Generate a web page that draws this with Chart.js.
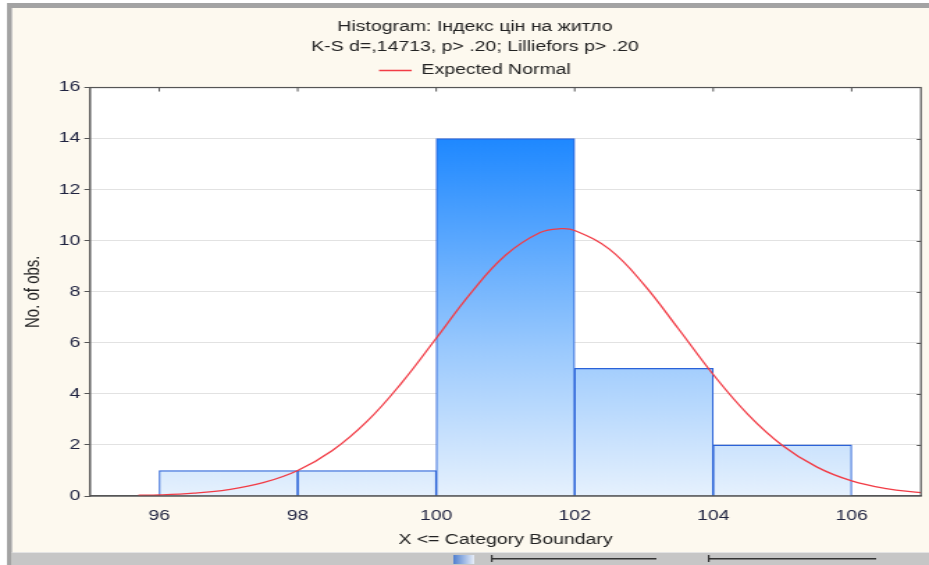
<!DOCTYPE html>
<html>
<head>
<meta charset="utf-8">
<script src="https://cdn.jsdelivr.net/npm/chart.js@4/dist/chart.umd.min.js"></script>
<style>
  html, body { margin: 0; padding: 0; background: #fff; overflow: hidden; }
  /* the source screenshot is stretched sideways, so the chart is drawn narrow and widened */
  #wrap { width: 668px; height: 565px; transform: scaleX(1.3907); transform-origin: 0 0; }
</style>
</head>
<body>
<div id="wrap"><canvas id="histCanvas" width="668" height="565"></canvas></div>
<script>
// histogram bins (centres), counts per bin, x tick labels
const binCenters = [97, 99, 101, 103, 105];
const binCounts = [1, 1, 14, 5, 2];
const xTicks = [96, 98, 100, 102, 104, 106];
// expected normal curve
const curveX = [95.7, 96, 96.5, 97, 97.5, 98, 98.5, 99, 99.5, 100, 100.5, 101, 101.5, 101.8, 102, 102.5, 103, 103.5, 104, 104.5, 105, 105.5, 106, 106.5, 107];
const curveY = [0.03, 0.04, 0.11, 0.25, 0.52, 1.0, 1.78, 2.92, 4.43, 6.18, 7.95, 9.43, 10.32, 10.47, 10.4, 9.67, 8.28, 6.54, 4.76, 3.2, 1.98, 1.13, 0.59, 0.29, 0.13];

const FONT = "'Liberation Sans', Arial, sans-serif";
const CREAM = '#fdf9ef';

const backdrop = {
    id: 'backdrop',
    beforeDraw(chart) {
        const c = chart.ctx, w = chart.width, h = chart.height, a = chart.chartArea;
        c.save();
        c.fillStyle = '#ffffff';
        c.fillRect(0, 0, w, h);
        c.fillStyle = CREAM;
        c.fillRect(8.6, 8, w - 8.6, h - 8);
        c.fillStyle = '#a3a3a3';
        c.fillRect(5, 3, 3.6, h - 3);
        c.fillRect(5, 3, w - 5, 5);
        // bottom toolbar
        c.fillStyle = '#c6c6c6';
        c.fillRect(8.6, 553, w - 8.6, 12);
        c.fillStyle = '#e4e4e4';
        c.fillRect(8.6, 552, w - 8.6, 1);
        c.fillStyle = '#333';
        c.fillRect(353, 558, 119, 1.5);
        c.fillRect(509, 558, 121, 1.5);
        c.fillRect(353, 555, 1.2, 7);
        c.fillRect(509, 555, 1.2, 7);
        const g = c.createLinearGradient(326, 0, 341, 0);
        g.addColorStop(0, '#4f7fd0');
        g.addColorStop(1, '#e8eef8');
        c.fillStyle = g;
        c.fillRect(326, 555, 15, 9);
        // plot background
        c.fillStyle = '#ffffff';
        c.fillRect(a.left, a.top, a.right - a.left, a.bottom - a.top);
        c.restore();
    }
};

const frame = {
    id: 'frame',
    afterDraw(chart) {
        const c = chart.ctx, a = chart.chartArea;
        const y = chart.scales.y, x = chart.scales.x;
        c.save();
        c.strokeStyle = '#555';
        c.lineWidth = 1.2;
        c.strokeRect(a.left, a.top, a.right - a.left, a.bottom - a.top);
        c.lineWidth = 1;
        c.beginPath();
        for (let v = 2; v < 16; v += 2) {
            const py = Math.round(y.getPixelForValue(v)) + 0.5;
            c.moveTo(a.right - 3, py);
            c.lineTo(a.right, py);
        }
        xTicks.forEach(v => {
            const px = x.getPixelForValue(v);
            c.moveTo(px, a.top);
            c.lineTo(px, a.top + 4);
        });
        c.stroke();
        c.restore();
    }
};

function barFill(ctx) {
    const chart = ctx.chart;
    const a = chart.chartArea;
    if (!a) return '#9fcbfe';
    const y = chart.scales.y;
    const g = chart.ctx.createLinearGradient(0, a.bottom, 0, y.getPixelForValue(14));
    g.addColorStop(0, '#e6f1fd');
    g.addColorStop(0.4, '#9ccafd');
    g.addColorStop(1, '#1e88ff');
    return g;
}

const chart = new Chart(document.getElementById('histCanvas'), {
    type: 'bar',
    data: {
        datasets: [{
            type: 'bar',
            label: 'Histogram',
            data: binCenters.map((v, i) => ({x: v, y: binCounts[i]})),
            backgroundColor: barFill,
            borderColor: '#2a62d8',
            borderWidth: {top: 1.3, left: 1.1, right: 1.1, bottom: 0},
            borderSkipped: false,
            barPercentage: 1,
            categoryPercentage: 1,
            grouped: false,
            order: 1
        }, {
            type: 'line',
            label: 'Expected Normal',
            data: curveX.map((v, i) => ({x: v, y: curveY[i]})),
            borderColor: '#f23c46',
            backgroundColor: '#f23c46',
            borderWidth: 1.3,
            pointRadius: 0,
            tension: 0.4,
            fill: false,
            order: 0
        }]
    },
    options: {
        responsive: false,
        animation: false,
        layout: {padding: {left: 15, right: 0, top: 0, bottom: 12}},
        plugins: {
            title: {
                display: true,
                text: ['Histogram: Індекс цін на житло', 'K-S d=,14713, p> .20; Lilliefors p> .20'],
                color: '#222',
                font: {family: FONT, size: 14, weight: 'normal', lineHeight: 1.43},
                padding: {top: 17, bottom: 0}
            },
            legend: {
                display: true,
                labels: {
                    color: '#222',
                    font: {family: FONT, size: 14},
                    boxWidth: 23.5,
                    boxHeight: 1.5,
                    padding: 6.5,
                    filter: item => item.datasetIndex === 1,
                    generateLabels: c => Chart.defaults.plugins.legend.labels.generateLabels(c).map(l => Object.assign(l, {lineWidth: 0}))
                }
            },
            tooltip: {enabled: false}
        },
        scales: {
            x: {
                type: 'linear',
                offset: false,
                min: 95,
                max: 107,
                afterBuildTicks: s => { s.ticks = xTicks.map(v => ({value: v})); },
                afterFit: s => { s.height = 57; },
                grid: {display: false},
                border: {display: true, color: '#555', width: 1.3},
                ticks: {color: '#1f2340', font: {family: FONT, size: 14}, padding: 4},
                title: {display: true, text: 'X <= Category Boundary', color: '#222',
                    font: {family: FONT, size: 14}, padding: {top: 4, bottom: 4}}
            },
            y: {
                min: 0,
                max: 16,
                ticks: {stepSize: 2, color: '#1f2340', font: {family: FONT, size: 14}, padding: 3},
                afterFit: s => { s.width = 49.7; },
                grid: {color: '#e2e2e2', tickColor: '#555', tickLength: 4, lineWidth: 1},
                border: {display: true, color: '#555', width: 1.2},
                title: {display: true, text: 'No. of obs.', color: '#222',
                    font: {family: FONT, size: 15}, padding: {top: 0, bottom: 0}}
            },
            y2: {
                position: 'right',
                display: true,
                afterFit: s => { s.width = 5.8; },
                grid: {display: false},
                border: {display: false},
                ticks: {display: false}
            }
        }
    },
    plugins: [backdrop, frame]
});
</script>
</body>
</html>
